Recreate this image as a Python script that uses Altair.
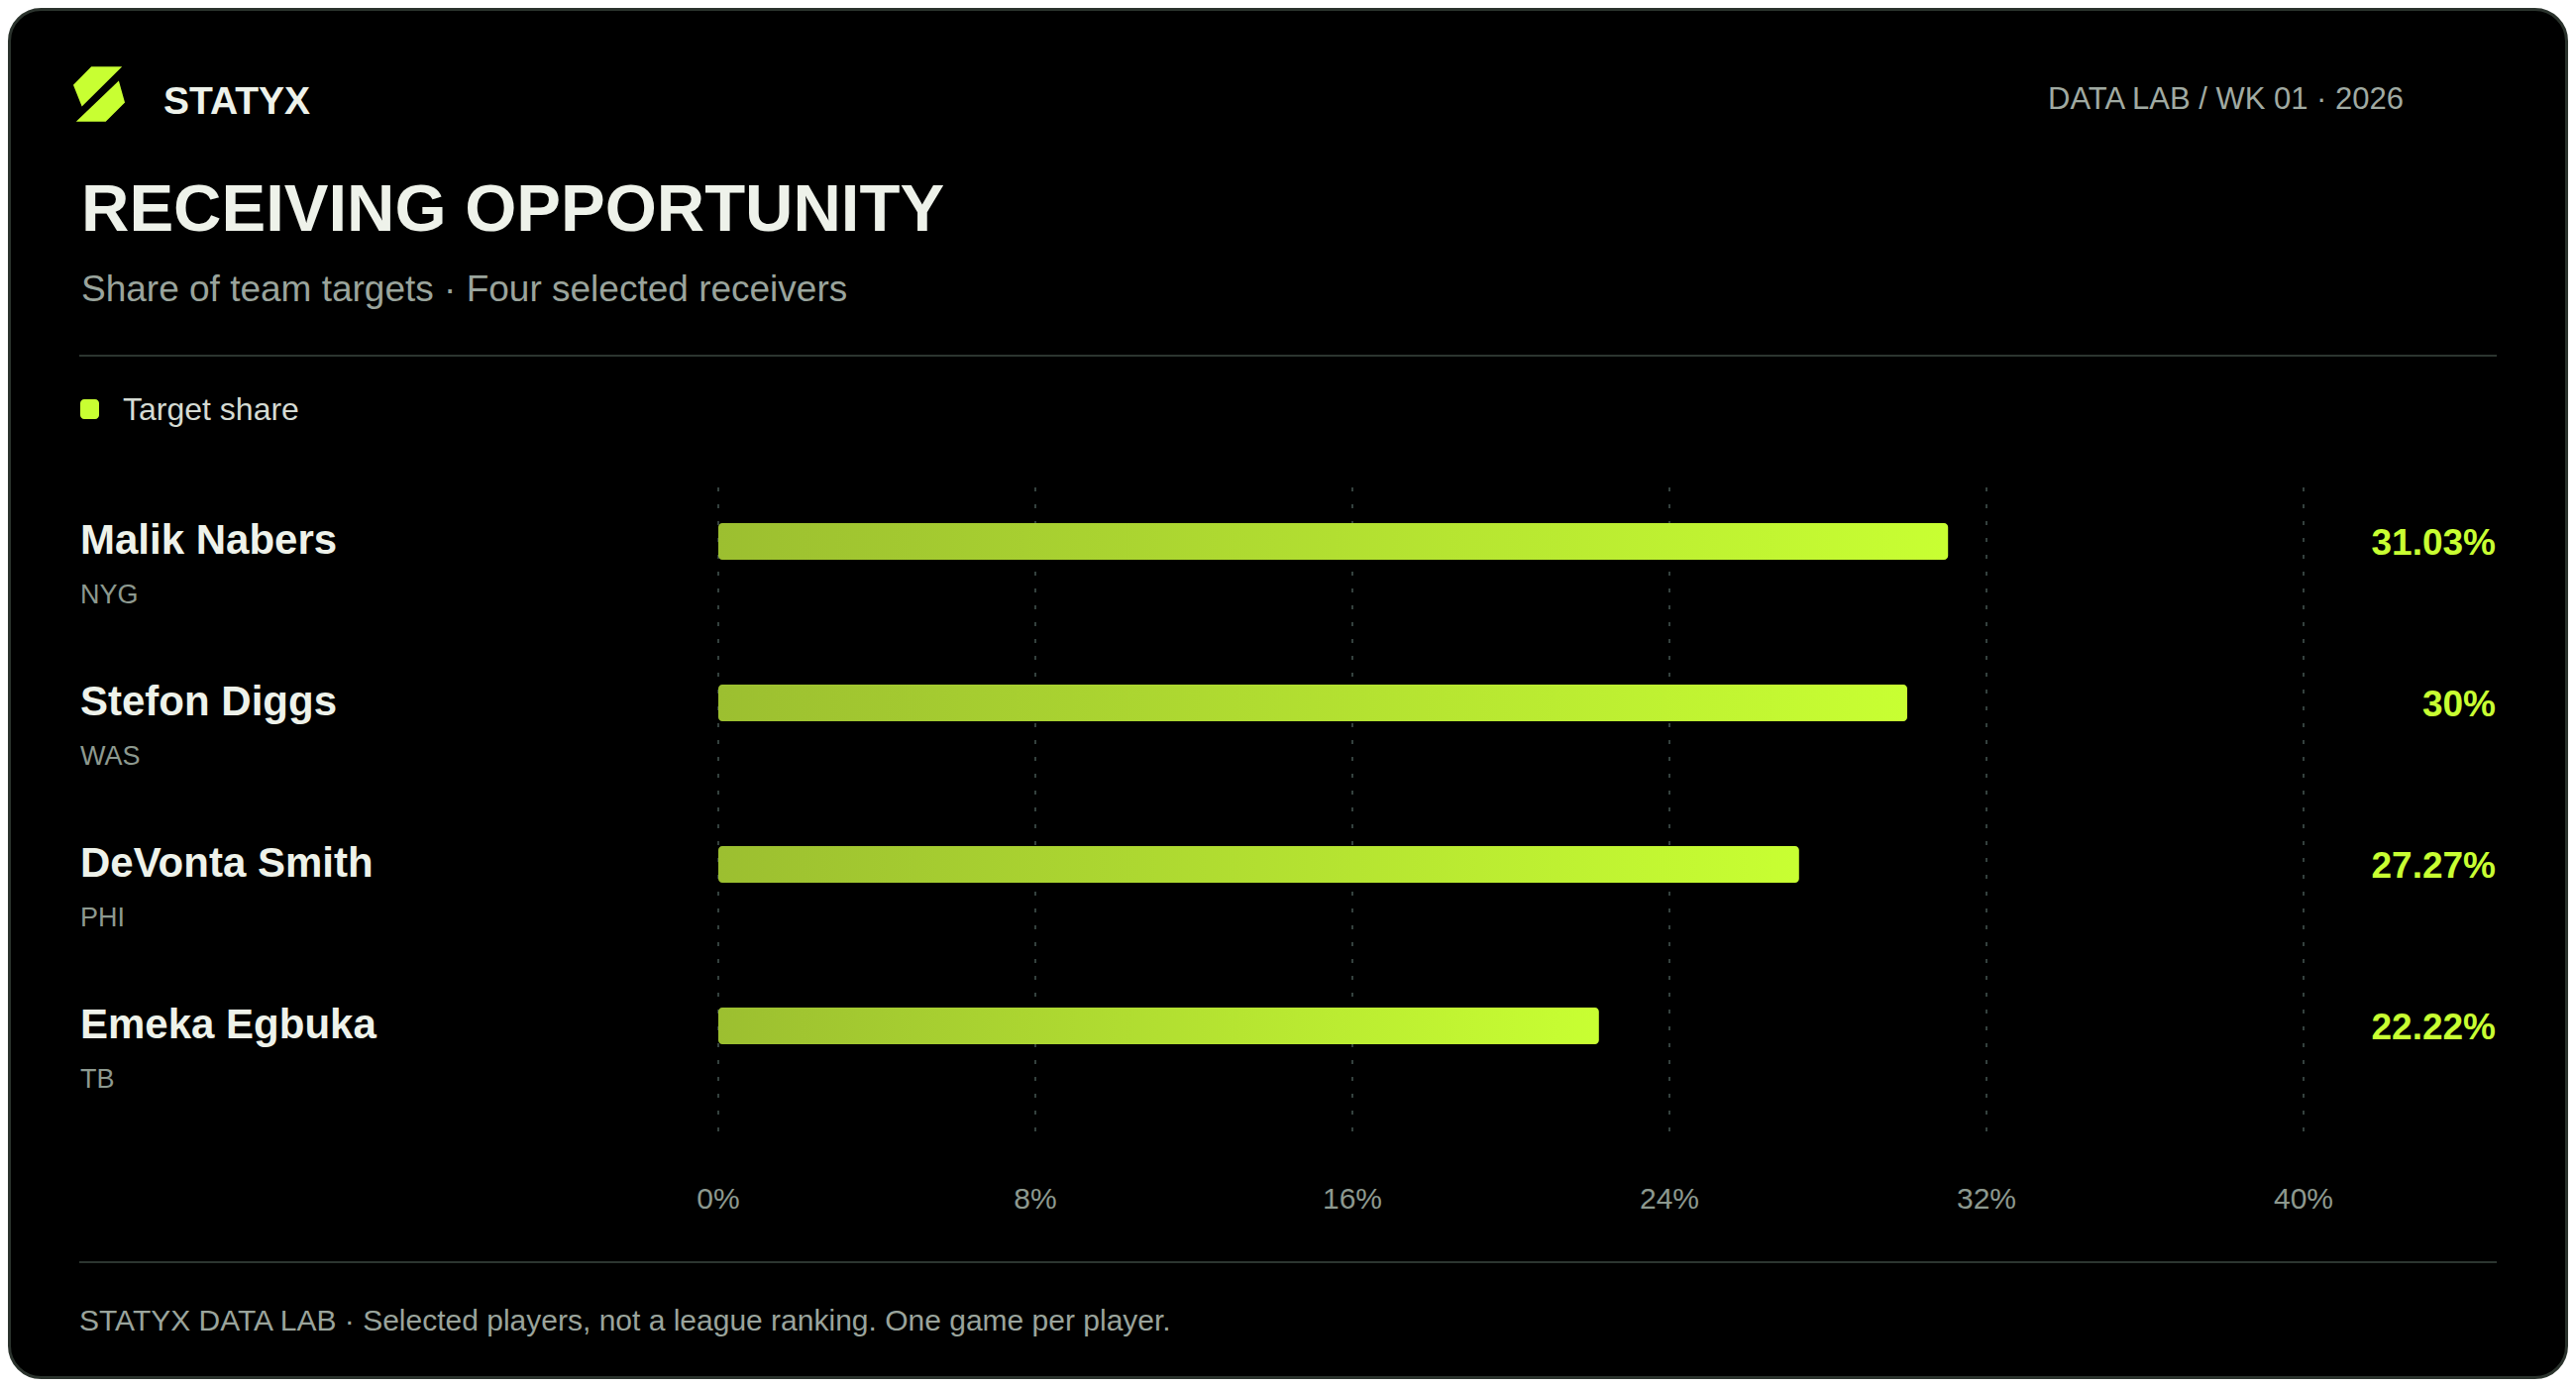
import altair as alt
import pandas as pd

# ---- data ----
players = ["Malik Nabers", "Stefon Diggs", "DeVonta Smith", "Emeka Egbuka"]
teams = ["NYG", "WAS", "PHI", "TB"]
shares = [31.03, 30.0, 27.27, 22.22]
tick_values = [0, 8, 16, 24, 32, 40]
tick_labels = ["0%", "8%", "16%", "24%", "32%", "40%"]

FONT = "Liberation Sans, Arial, Helvetica, sans-serif"
LIME = "#c8ff32"
LIME_DARK = "#9cbf30"
WHITE = "#eef2ea"
MUTED = "#8d998f"
SUB = "#9aa49c"
LINE = "#2c3530"
GRID = "#34413e"

W, H = 2584, 1384

df = pd.DataFrame({
    "player": players,
    "team": teams,
    "share": shares,
    "label": [f"{v:g}%" for v in shares],
})
ticks = pd.DataFrame({"t": tick_values, "lab": tick_labels})
one = pd.DataFrame({"a": [0]})

xscale = alt.Scale(domain=[0, 40], range=[717, 2317], nice=False, zero=True)
yscale = alt.Scale(domain=players, range=[457, 1109], paddingInner=0, paddingOuter=0)

X = alt.X("share:Q", scale=xscale, axis=None)
Y = alt.Y("player:N", scale=yscale, axis=None, sort=players)

base1 = alt.Chart(one)

card = base1.mark_rect(cornerRadius=32, fill="#000000", stroke="#2b332d", strokeWidth=3).encode(
    x=alt.value(1.5), x2=alt.value(W - 1.5), y=alt.value(1.5), y2=alt.value(H - 1.5)
)

logo_path = ("M-0.93,-0.33L-0.28,-0.99L0.83,-0.99L-0.62,0.45Z "
             "M0.71,-0.48L0.93,0.3L0.24,0.99L-0.83,0.99Z")
logo = base1.mark_point(shape=logo_path, filled=True, size=3136, fill=LIME, opacity=1, strokeWidth=0).encode(
    x=alt.value(92), y=alt.value(87)
)

brand = base1.mark_text(text="STATYX", font=FONT, fontSize=39, fontWeight="bold", color=WHITE,
                        align="left", baseline="alphabetic").encode(x=alt.value(157), y=alt.value(107))
edition = base1.mark_text(text="DATA LAB / WK 01 · 2026", font=FONT, fontSize=31, color="#a0aaa2",
                          align="right", baseline="alphabetic").encode(x=alt.value(2418), y=alt.value(102))
title = base1.mark_text(text="RECEIVING OPPORTUNITY", font=FONT, fontSize=67, fontWeight="bold", color=WHITE,
                        align="left", baseline="alphabetic").encode(x=alt.value(74), y=alt.value(225))
subtitle = base1.mark_text(text="Share of team targets · Four selected receivers", font=FONT, fontSize=37,
                           color=SUB, align="left", baseline="alphabetic").encode(x=alt.value(74), y=alt.value(296))
sep_top = base1.mark_rule(color=LINE, strokeWidth=2).encode(x=alt.value(72), x2=alt.value(2512), y=alt.value(351))
sep_bot = base1.mark_rule(color=LINE, strokeWidth=2).encode(x=alt.value(72), x2=alt.value(2512), y=alt.value(1266))

legend_sw = base1.mark_rect(cornerRadius=4, fill=LIME).encode(
    x=alt.value(73), x2=alt.value(92), y=alt.value(395), y2=alt.value(415)
)
legend_tx = base1.mark_text(text="Target share", font=FONT, fontSize=32, color="#d5dbd3",
                            align="left", baseline="alphabetic").encode(x=alt.value(116), y=alt.value(416))

footer = base1.mark_text(text="STATYX DATA LAB · Selected players, not a league ranking. One game per player.",
                         font=FONT, fontSize=30, color=SUB, align="left", baseline="alphabetic").encode(
    x=alt.value(72), y=alt.value(1335)
)

grid = alt.Chart(ticks).mark_rule(stroke=GRID, strokeWidth=2, strokeDash=[4, 13]).encode(
    x=alt.X("t:Q", scale=xscale, axis=None), y=alt.value(484), y2=alt.value(1139)
)
axis_labels = alt.Chart(ticks).mark_text(font=FONT, fontSize=30, color=MUTED, align="center",
                                         baseline="alphabetic").encode(
    x=alt.X("t:Q", scale=xscale, axis=None), y=alt.value(1212), text="lab:N"
)

gradient = alt.Gradient(
    gradient="linear",
    stops=[alt.GradientStop(color=LIME_DARK, offset=0), alt.GradientStop(color=LIME, offset=1)],
    x1=0, x2=1, y1=0, y2=0,
)
bars = alt.Chart(df).mark_bar(size=37, cornerRadius=4, color=gradient).encode(
    x=X, x2=alt.datum(0), y=Y
)

names = alt.Chart(df).mark_text(font=FONT, fontSize=42, fontWeight="bold", color=WHITE, align="left",
                                baseline="alphabetic", dy=12.5).encode(
    x=alt.value(73), y=Y, text="player:N"
)
codes = alt.Chart(df).mark_text(font=FONT, fontSize=27, color=MUTED, align="left",
                                baseline="alphabetic", dy=62.5).encode(
    x=alt.value(73), y=Y, text="team:N"
)
values = alt.Chart(df).mark_text(font=FONT, fontSize=37, fontWeight="bold", color=LIME, align="right",
                                 baseline="alphabetic", dy=13.5).encode(
    x=alt.value(2511), y=Y, text="label:N"
)

chart = alt.layer(
    card, logo, brand, edition, title, subtitle, sep_top, legend_sw, legend_tx,
    grid, axis_labels, bars, names, codes, values, sep_bot, footer
).properties(
    width=W, height=H, autosize=alt.AutoSizeParams(type="none"), padding=0, background="white"
).configure_view(stroke=None)

chart.save("out.html", embed_options={"renderer": "svg", "actions": False})
